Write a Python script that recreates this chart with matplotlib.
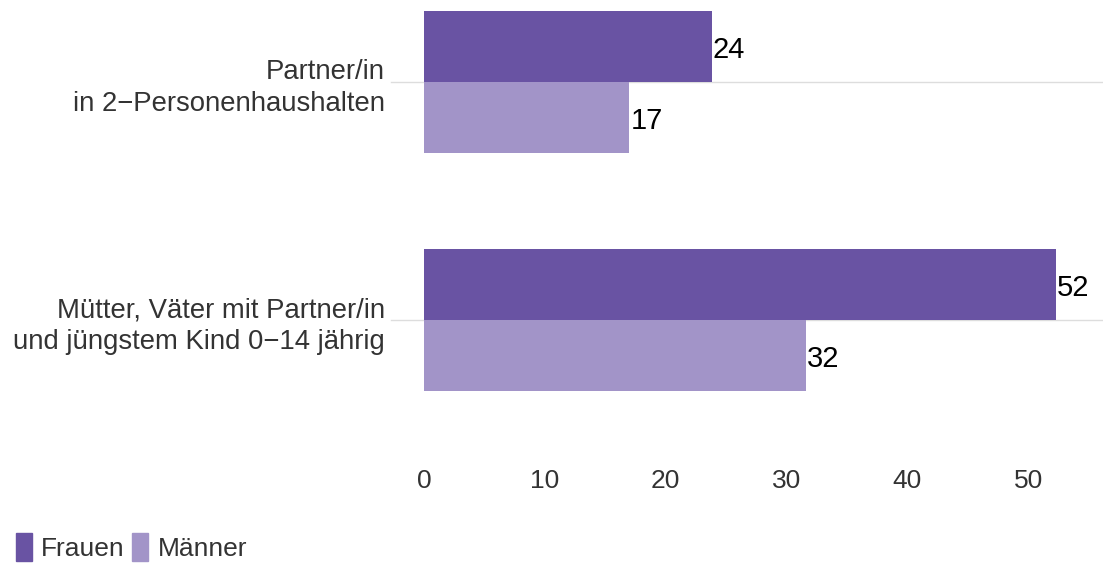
import matplotlib.pyplot as plt
from matplotlib.patches import Patch

categories = ["Partner/in\nin 2\u2212Personenhaushalten",
              "M\u00fctter, V\u00e4ter mit Partner/in\nund j\u00fcngstem Kind 0\u221214 j\u00e4hrig"]
frauen = [23.8, 52.3]
maenner = [17.0, 31.6]
series = ["Frauen", "M\u00e4nner"]
xticks = [0, 10, 20, 30, 40, 50]

col_f = "#6953a3"
col_m = "#a294c8"

plt.rcParams['font.family'] = ['Liberation Sans', 'DejaVu Sans']

fig = plt.figure(figsize=(11.03, 5.66), dpi=100)
ax = fig.add_axes([424 / 1103, 1 - 455 / 566, 1 - 424 / 1103, 455 / 566])

pos = list(range(len(categories)))
h = 0.3
ax.barh([p - h / 2 for p in pos], frauen, height=h, color=col_f, zorder=2)
ax.barh([p + h / 2 for p in pos], maenner, height=h, color=col_m, zorder=2)

for p, v in zip(pos, frauen):
    ax.text(v + 0.1, p - h / 2 + 0.015, f"{v:.0f}", va="center", ha="left", fontsize=21, color="black")
for p, v in zip(pos, maenner):
    ax.text(v + 0.1, p + h / 2 + 0.015, f"{v:.0f}", va="center", ha="left", fontsize=21, color="black")

for p in pos:
    ax.axhline(p, xmin=-0.049, xmax=1, color="#dddddd", lw=1, clip_on=False, zorder=1)

ax.set_xlim(0, 56.2)
ax.set_ylim(1.567, -0.345)
ax.set_xticks(xticks)
ax.set_xticklabels([str(t) for t in xticks], fontsize=19, color="#333333")
ax.set_yticks(pos)
ax.set_yticklabels(categories, fontsize=19.8, color="#333333", ha="right", linespacing=1.3)
ax.tick_params(axis="both", length=0)
ax.tick_params(axis="x", pad=10)
ax.tick_params(axis="y", pad=28)
for s in ax.spines.values():
    s.set_visible(False)

handles = [Patch(color=col_f), Patch(color=col_m)]
fig.legend(handles, series, loc="lower left", bbox_to_anchor=(0.0, -0.02), ncol=2,
           frameon=False, fontsize=19, handlelength=0.6, handleheight=1.3,
           handletextpad=0.35, columnspacing=0.3, labelcolor="#333333",
           borderaxespad=0.2)

fig.savefig("out.png", dpi=100)
